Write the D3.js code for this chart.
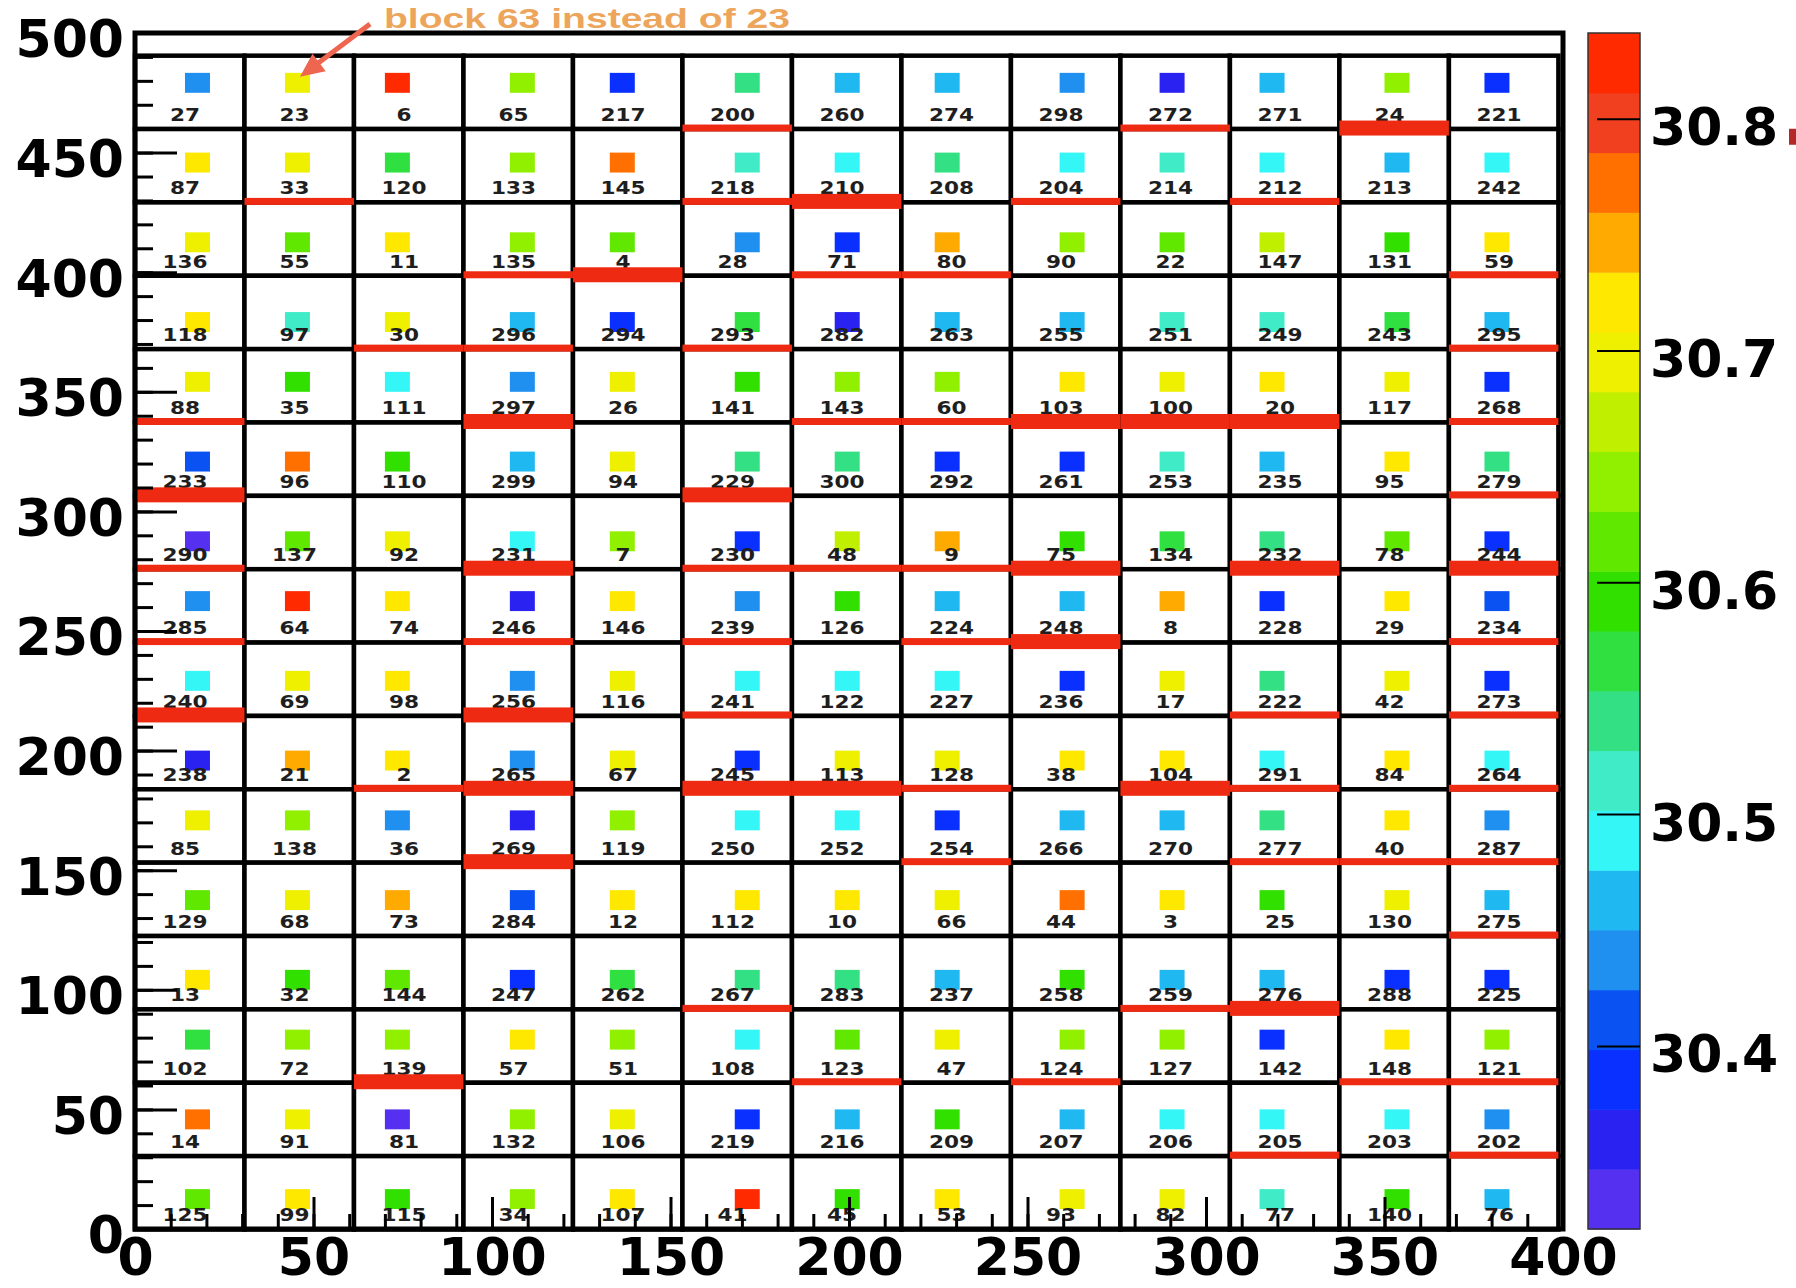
<!DOCTYPE html>
<html>
<head>
<meta charset="utf-8">
<script src="https://cdn.jsdelivr.net/npm/d3@7"></script>
<style>
body { margin: 0; background: #fff; }
svg { display: block; }
text { font-family: "DejaVu Sans", sans-serif; }
</style>
</head>
<body>
<svg width="1796" height="1288"></svg>
<script>
// block numbers, rows listed from the top of the map (y ~ 490) down to y ~ 0
var blockIds = [
  [27, 23, 6, 65, 217, 200, 260, 274, 298, 272, 271, 24, 221],
  [87, 33, 120, 133, 145, 218, 210, 208, 204, 214, 212, 213, 242],
  [136, 55, 11, 135, 4, 28, 71, 80, 90, 22, 147, 131, 59],
  [118, 97, 30, 296, 294, 293, 282, 263, 255, 251, 249, 243, 295],
  [88, 35, 111, 297, 26, 141, 143, 60, 103, 100, 20, 117, 268],
  [233, 96, 110, 299, 94, 229, 300, 292, 261, 253, 235, 95, 279],
  [290, 137, 92, 231, 7, 230, 48, 9, 75, 134, 232, 78, 244],
  [285, 64, 74, 246, 146, 239, 126, 224, 248, 8, 228, 29, 234],
  [240, 69, 98, 256, 116, 241, 122, 227, 236, 17, 222, 42, 273],
  [238, 21, 2, 265, 67, 245, 113, 128, 38, 104, 291, 84, 264],
  [85, 138, 36, 269, 119, 250, 252, 254, 266, 270, 277, 40, 287],
  [129, 68, 73, 284, 12, 112, 10, 66, 44, 3, 25, 130, 275],
  [13, 32, 144, 247, 262, 267, 283, 237, 258, 259, 276, 288, 225],
  [102, 72, 139, 57, 51, 108, 123, 47, 124, 127, 142, 148, 121],
  [14, 91, 81, 132, 106, 219, 216, 209, 207, 206, 205, 203, 202],
  [125, 99, 115, 34, 107, 41, 45, 53, 93, 82, 77, 140, 76]
];

// value of each block
var blockVals = [
  [30.44, 30.70, 30.83, 30.64, 30.39, 30.54, 30.46, 30.46, 30.44, 30.36, 30.46, 30.64, 30.39],
  [30.72, 30.70, 30.57, 30.64, 30.77, 30.52, 30.49, 30.54, 30.49, 30.52, 30.49, 30.46, 30.49],
  [30.70, 30.62, 30.72, 30.64, 30.62, 30.44, 30.39, 30.75, 30.64, 30.62, 30.67, 30.59, 30.72],
  [30.72, 30.52, 30.70, 30.46, 30.39, 30.57, 30.36, 30.46, 30.46, 30.52, 30.52, 30.57, 30.46],
  [30.70, 30.59, 30.49, 30.44, 30.70, 30.59, 30.64, 30.64, 30.72, 30.70, 30.72, 30.70, 30.39],
  [30.41, 30.77, 30.59, 30.46, 30.70, 30.54, 30.54, 30.39, 30.39, 30.52, 30.46, 30.72, 30.54],
  [30.33, 30.62, 30.70, 30.49, 30.64, 30.39, 30.67, 30.75, 30.59, 30.57, 30.54, 30.62, 30.39],
  [30.44, 30.83, 30.72, 30.36, 30.72, 30.44, 30.59, 30.46, 30.46, 30.75, 30.39, 30.72, 30.41],
  [30.49, 30.70, 30.72, 30.44, 30.70, 30.49, 30.49, 30.49, 30.39, 30.70, 30.54, 30.70, 30.39],
  [30.36, 30.75, 30.72, 30.44, 30.70, 30.39, 30.70, 30.70, 30.72, 30.72, 30.49, 30.72, 30.49],
  [30.70, 30.64, 30.44, 30.36, 30.64, 30.49, 30.49, 30.39, 30.46, 30.46, 30.54, 30.72, 30.44],
  [30.62, 30.70, 30.75, 30.41, 30.72, 30.72, 30.72, 30.70, 30.77, 30.72, 30.59, 30.70, 30.46],
  [30.72, 30.59, 30.62, 30.39, 30.57, 30.54, 30.54, 30.46, 30.59, 30.46, 30.46, 30.39, 30.39],
  [30.57, 30.64, 30.64, 30.72, 30.64, 30.49, 30.62, 30.70, 30.64, 30.64, 30.39, 30.72, 30.64],
  [30.77, 30.70, 30.33, 30.64, 30.70, 30.39, 30.46, 30.59, 30.46, 30.49, 30.49, 30.49, 30.44],
  [30.62, 30.72, 30.59, 30.64, 30.72, 30.83, 30.59, 30.72, 30.70, 30.70, 30.52, 30.59, 30.46]
];

// [row, col] of blocks whose lower edge is marked red
var redThin = [
  [0, 5], [0, 9],
  [1, 1], [1, 5], [1, 8], [1, 10],
  [2, 3], [2, 6], [2, 7], [2, 12],
  [3, 2], [3, 3], [3, 5], [3, 12],
  [4, 0], [4, 6], [4, 7], [4, 12],
  [5, 12],
  [6, 0], [6, 5], [6, 6], [6, 7],
  [7, 0], [7, 3], [7, 5], [7, 7], [7, 12],
  [8, 5], [8, 10], [8, 12],
  [9, 2], [9, 7], [9, 10], [9, 12],
  [10, 7], [10, 10], [10, 11], [10, 12],
  [11, 12],
  [12, 5], [12, 9],
  [13, 6], [13, 8], [13, 11], [13, 12],
  [14, 10], [14, 12]
];
var redThick = [
  [0, 11], [1, 6], [2, 4],
  [4, 3], [4, 8], [4, 9], [4, 10],
  [5, 0], [5, 5],
  [6, 3], [6, 8], [6, 10], [6, 12],
  [7, 8], [8, 0], [8, 3],
  [9, 3], [9, 5], [9, 6], [9, 9],
  [10, 3], [12, 10], [13, 2]
];

// 20 colour levels, low to high
var palette = ["#5530f0", "#2a22f0", "#0a30ff", "#0a52f2", "#2090f0", "#20b8f0", "#34f6f6", "#40ecc8",
               "#34e084", "#30e040", "#32e000", "#60e800", "#90f000", "#c0f000", "#eef000", "#ffe800",
               "#ffaa00", "#ff7000", "#f04020", "#ff2a00"];
var zMin = 30.321, zMax = 30.837;

var xTicks = [0, 50, 100, 150, 200, 250, 300, 350, 400];
var yTicks = [0, 50, 100, 150, 200, 250, 300, 350, 400, 450, 500];
var zTicks = [30.4, 30.5, 30.6, 30.7, 30.8];

var pitch = 30.67, gridDy = -0.2;
var binX = 7, binY = 500 / 60;

var svg = d3.select('svg');

var x = d3.scaleLinear().domain([0, 400]).range([135, 1563]);
var y = d3.scaleLinear().domain([0, 500]).range([1229, 33]);
var z = d3.scaleQuantize().domain([zMin, zMax]).range(palette);
var zy = d3.scaleLinear().domain([zMin, zMax]).range([1229, 33]);

var nRows = blockIds.length;
var cells = [];
blockIds.forEach(function (row, r) {
  row.forEach(function (id, c) {
    cells.push({r: r, c: c, id: id, val: blockVals[r][c],
                x0: c * pitch, y0: (nRows - 1 - r) * pitch + gridDy});
  });
});

function binLo(v, w) { return Math.floor(v / w) * w; }

svg.append('g').selectAll('rect')
  .data(cells)
  .enter()
  .append('rect')
  .attr('x', function (d) { return x(d.x0); })
  .attr('y', function (d) { return y(d.y0 + pitch); })
  .attr('width', x(pitch) - x(0))
  .attr('height', y(0) - y(pitch))
  .attr('fill', '#fff')
  .attr('stroke', '#000')
  .attr('stroke-width', 4.5);

svg.append('g').selectAll('rect')
  .data(cells)
  .enter()
  .append('rect')
  .attr('x', function (d) { return x(binLo(d.x0 + pitch / 2 - 0.1, binX)); })
  .attr('y', function (d) { return y(binLo(d.y0 + pitch / 2, binY) + binY); })
  .attr('width', x(binX) - x(0))
  .attr('height', y(0) - y(binY))
  .attr('fill', function (d) { return z(d.val); });

svg.append('g').selectAll('text')
  .data(cells)
  .enter()
  .append('text')
  .attr('transform', function (d) {
    return 'translate(' + x(d.x0 + pitch / 2 - 1.3) + ',' + y(d.y0 + 3.4) + ') scale(1.2,1)';
  })
  .attr('text-anchor', 'middle')
  .style('font-size', '18px')
  .style('font-weight', 'bold')
  .attr('fill', '#1e1e1e')
  .text(function (d) { return d.id; });

function redEdges(list, h) {
  svg.append('g').selectAll('rect')
    .data(list)
    .enter()
    .append('rect')
    .attr('x', function (d) { return x(d[1] * pitch); })
    .attr('y', function (d) { return y((nRows - 1 - d[0]) * pitch + gridDy) - h / 2 - 1; })
    .attr('width', x(pitch) - x(0))
    .attr('height', h)
    .attr('fill', '#ee2b12');
}
redEdges(redThin, 7);
redEdges(redThick, 15);

// axes, ticks inside the frame
function styleAxis(g) {
  g.select('.domain').remove();
  g.selectAll('line').attr('stroke', '#000').attr('stroke-width', 3);
  g.selectAll('text').style('font-size', '52px').style('font-weight', 'bold').attr('fill', '#000');
}

svg.append('g')
  .attr('transform', 'translate(0,1229)')
  .call(d3.axisBottom(x).tickValues(d3.range(0, 401, 10)).tickSize(-15).tickFormat(''))
  .call(styleAxis);
svg.append('g')
  .attr('transform', 'translate(0,1229)')
  .call(d3.axisBottom(x).tickValues(xTicks).tickSize(-32).tickPadding(9))
  .call(styleAxis);

svg.append('g')
  .attr('transform', 'translate(135,0)')
  .call(d3.axisLeft(y).tickValues(d3.range(0, 501, 10)).tickSize(-18).tickFormat(''))
  .call(styleAxis);
var yAx = svg.append('g')
  .attr('transform', 'translate(135,0)')
  .call(d3.axisLeft(y).tickValues(yTicks).tickSize(-42).tickPadding(11))
  .call(styleAxis);
yAx.selectAll('text').attr('dy', '0.46em');

svg.append('rect')
  .attr('x', x(0)).attr('y', y(500))
  .attr('width', x(400) - x(0)).attr('height', y(0) - y(500))
  .attr('fill', 'none').attr('stroke', '#000').attr('stroke-width', 5);

// colour scale
var step = (zMax - zMin) / palette.length;
svg.append('g').selectAll('rect')
  .data(palette)
  .enter()
  .append('rect')
  .attr('x', 1588)
  .attr('y', function (d, i) { return zy(zMin + (i + 1) * step); })
  .attr('width', 52)
  .attr('height', function (d, i) { return zy(zMin + i * step) - zy(zMin + (i + 1) * step) + 0.5; })
  .attr('fill', function (d) { return d; });
svg.append('rect')
  .attr('x', 1588).attr('y', zy(zMax))
  .attr('width', 52).attr('height', zy(zMin) - zy(zMax))
  .attr('fill', 'none').attr('stroke', '#333').attr('stroke-width', 1.5);

var zAx = svg.append('g')
  .attr('transform', 'translate(1640,0)')
  .call(d3.axisRight(zy).tickValues(zTicks).tickSize(-43).tickPadding(10).tickFormat(d3.format('.1f')))
  .call(styleAxis);
zAx.selectAll('line').attr('stroke-width', 2);
zAx.selectAll('text').attr('dy', '0.5em');

svg.append('rect')
  .attr('x', 1789).attr('y', zy(30.8) + 10)
  .attr('width', 7).attr('height', 16)
  .attr('fill', '#b5282a');

// note on block 23
svg.append('text')
  .attr('x', 384)
  .attr('y', 28)
  .attr('textLength', 406)
  .attr('lengthAdjust', 'spacingAndGlyphs')
  .style('font-family', '"Liberation Sans", Arial, sans-serif')
  .style('font-size', '27px')
  .style('font-weight', 'bold')
  .attr('fill', '#eda55c')
  .text('block 63 instead of 23');

var tip = cells.filter(function (d) { return d.id === 23; })[0];
var tx = x(binLo(tip.x0 + pitch / 2 - 0.1, binX) + binX) - 10;
var ty = y(binLo(tip.y0 + pitch / 2, binY) + binY) + 4;
var sx = 370, sy = 24;
var ang = Math.atan2(ty - sy, tx - sx);
svg.append('line')
  .attr('x1', sx).attr('y1', sy)
  .attr('x2', tx - 18 * Math.cos(ang)).attr('y2', ty - 18 * Math.sin(ang))
  .attr('stroke', '#ee6650').attr('stroke-width', 5);
svg.append('path')
  .attr('d', 'M' + tx + ',' + ty +
    'L' + (tx - 24 * Math.cos(ang) + 11 * Math.sin(ang)) + ',' + (ty - 24 * Math.sin(ang) - 11 * Math.cos(ang)) +
    'L' + (tx - 24 * Math.cos(ang) - 11 * Math.sin(ang)) + ',' + (ty - 24 * Math.sin(ang) + 11 * Math.cos(ang)) + 'Z')
  .attr('fill', '#ee6650');
</script>
</body>
</html>
